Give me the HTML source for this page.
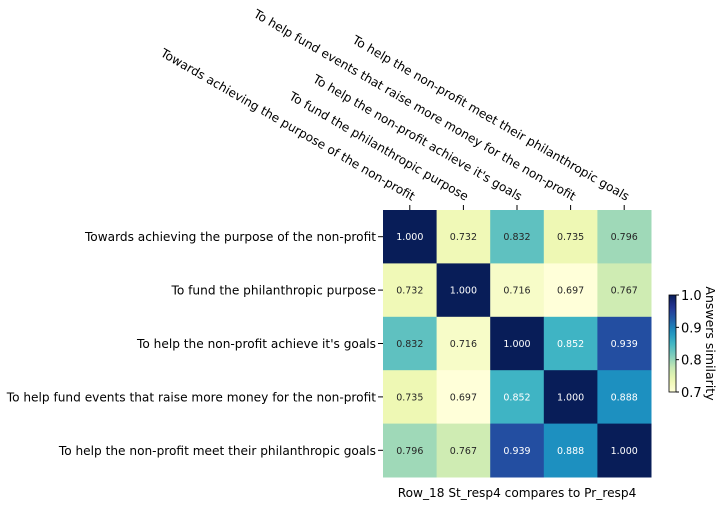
<!DOCTYPE html>
<html><head><meta charset="utf-8"><style>
html,body{margin:0;padding:0;background:#fff;}
svg{display:block;font-family:"DejaVu Sans","Liberation Sans",sans-serif;}
</style></head><body>
<svg id="chart" width="723" height="507" viewBox="0 0 723 507" xmlns="http://www.w3.org/2000/svg"></svg>
<script>
const categories = [
  "Towards achieving the purpose of the non-profit",
  "To fund the philanthropic purpose",
  "To help the non-profit achieve it's goals",
  "To help fund events that raise more money for the non-profit",
  "To help the non-profit meet their philanthropic goals"
];
const row0 = [1.000, 0.732, 0.832, 0.735, 0.796];
const row1 = [0.732, 1.000, 0.716, 0.697, 0.767];
const row2 = [0.832, 0.716, 1.000, 0.852, 0.939];
const row3 = [0.735, 0.697, 0.852, 1.000, 0.888];
const row4 = [0.796, 0.767, 0.939, 0.888, 1.000];
const colorbarTicks = [0.7, 0.8, 0.9, 1.0];
const colorbarLabels = ["0.7", "0.8", "0.9", "1.0"];
const xAxisTitle = "Row_18 St_resp4 compares to Pr_resp4";
const colorbarTitle = "Answers similarity";

const values = [row0, row1, row2, row3, row4];
const NS = "http://www.w3.org/2000/svg";
const svg = document.getElementById("chart");
const vmin = 0.7, vmax = 1.0;
const L = 383, T = 210, W = 268, H = 267;
const n = categories.length;
const cw = W / n, ch = H / n;
const xPos = i => L + i * cw;
const yPos = j => T + j * ch;
const stops = ["#ffffd9","#edf8b1","#c7e9b4","#7fcdbb","#41b6c4","#1d91c0","#225ea8","#253494","#081d58"];
function hex(h){return [1,3,5].map(k=>parseInt(h.substr(k,2),16));}
function cmap(v){
  let t = Math.max(0, Math.min(1, (v - vmin) / (vmax - vmin)));
  let p = t * (stops.length - 1), i = Math.min(Math.floor(p), stops.length - 2), f = p - i;
  const a = hex(stops[i]), b = hex(stops[i+1]);
  return "rgb(" + a.map((c,k)=>Math.round(c + (b[k]-c)*f)).join(",") + ")";
}
function mk(tag, attrs, text){
  const e = document.createElementNS(NS, tag);
  for (const k in attrs) e.setAttribute(k, attrs[k]);
  if (text !== undefined) e.textContent = text;
  svg.appendChild(e);
  return e;
}
for (let r = 0; r < n; r++) {
  for (let c = 0; c < n; c++) {
    const v = values[r][c];
    const rect = mk("rect", {x: xPos(c), y: yPos(r), width: cw + 0.5, height: ch + 0.5, fill: cmap(v)});
    
    
    const tx = mk("text", {x: xPos(c) + cw/2, y: yPos(r) + ch/2 + 3.5, "text-anchor": "middle", "font-size": "9.5", fill: v > 0.84 ? "#fff" : "#262626"}, v.toFixed(3));
    
    
  }
}
for (let i = 0; i < n; i++) {
  const cx = xPos(i) + cw/2;
  const tk = mk("line", {x1: cx, x2: cx, y1: T - 5, y2: T, stroke: "#000", "stroke-width": 1});
  
  
  const xl = mk("text", {x: cx + 2, y: T - 9, "text-anchor": "end", "font-size": "12.15", fill: "#000", transform: "rotate(30 " + (cx + 2) + " " + (T - 9) + ")"}, categories[i]);
  
  
  const cy = yPos(i) + ch/2;
  const yt = mk("line", {x1: L - 5, x2: L, y1: cy, y2: cy, stroke: "#000", "stroke-width": 1});
  
  
  const yl = mk("text", {x: L - 7, y: cy + 4.5, "text-anchor": "end", "font-size": "12.15", fill: "#000"}, categories[i]);
  
  
}
const xt = mk("text", {x: L + W/2, y: 497, "text-anchor": "middle", "font-size": "12.15", fill: "#000"}, xAxisTitle);


// colorbar
const CL = 669, CT = 295, CW = 7, CH = 97;
const cbY = v => CT + CH - (v - vmin) / (vmax - vmin) * CH;
const defs = mk("defs", {});
const grad = document.createElementNS(NS, "linearGradient");
grad.setAttribute("id", "cbg"); grad.setAttribute("x1", "0"); grad.setAttribute("y1", "1"); grad.setAttribute("x2", "0"); grad.setAttribute("y2", "0");
for (let k = 0; k <= 20; k++) {
  const s = document.createElementNS(NS, "stop");
  s.setAttribute("offset", k/20);
  s.setAttribute("stop-color", cmap(vmin + (vmax - vmin) * k / 20));
  grad.appendChild(s);
}
defs.appendChild(grad);
const cb = mk("rect", {x: CL, y: CT, width: CW, height: CH, fill: "url(#cbg)", stroke: "#000", "stroke-width": 0.8});


colorbarTicks.forEach((v, k) => {
  const y = cbY(v);
  const t = mk("line", {x1: CL + CW, x2: CL + CW + 3, y1: y, y2: y, stroke: "#000", "stroke-width": 1});
  
  
  const l = mk("text", {x: CL + CW + 5, y: y + 5, "font-size": "13", fill: "#000"}, colorbarLabels[k]);
  
  
});
const ct = mk("text", {x: 706, y: CT + CH/2, "text-anchor": "middle", "font-size": "12.5", fill: "#000", transform: "rotate(90 706 " + (CT + CH/2) + ")"}, colorbarTitle);


</script>
</body></html>
